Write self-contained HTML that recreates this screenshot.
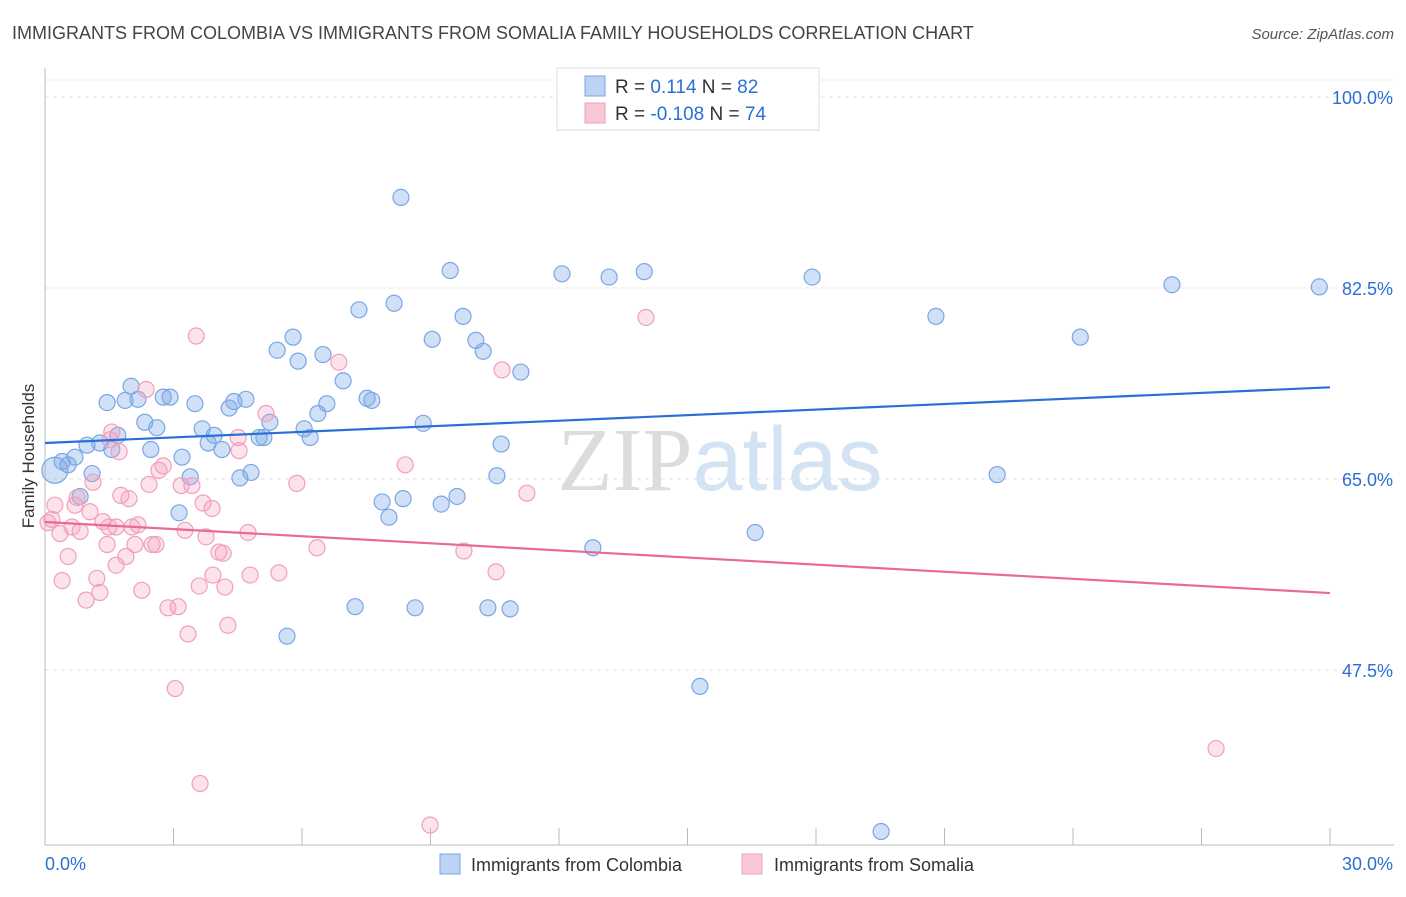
<!DOCTYPE html>
<html><head><meta charset="utf-8"><style>
body{margin:0;background:#fff;font-family:"Liberation Sans",sans-serif;}
svg text{font-family:"Liberation Sans",sans-serif;}
</style></head><body>
<svg id="chart" width="1406" height="892" xmlns="http://www.w3.org/2000/svg">
<text x="12" y="39" font-size="18" fill="#444">IMMIGRANTS FROM COLOMBIA VS IMMIGRANTS FROM SOMALIA FAMILY HOUSEHOLDS CORRELATION CHART</text>
<text x="1394" y="39" font-size="15" fill="#555" text-anchor="end" font-style="italic">Source: ZipAtlas.com</text>
<g id="grid"></g>
<text x="720" y="490" font-size="90" text-anchor="middle" fill="#e4e4e4"><tspan font-family="Liberation Serif" fill="#dcdcdc">ZIP</tspan><tspan fill="#d4e3f4">atlas</tspan></text>
<g id="axes"></g>
<g id="pts"></g>
<g id="trends"></g>
<text transform="translate(34,456) rotate(-90)" font-size="17" fill="#333" text-anchor="middle">Family Households</text>
<g>
<rect x="557" y="68" width="262" height="62" fill="#fff" stroke="#ddd"/>
<rect x="585" y="76" width="20" height="20" fill="#bcd4f4" stroke="#7aa6e6"/>
<rect x="585" y="103" width="20" height="20" fill="#f9c8d6" stroke="#eea0b8"/>
<text x="615" y="93" font-size="19" fill="#333">R = <tspan fill="#2a6fd6">  0.114</tspan><tspan fill="#333">   N = </tspan><tspan fill="#2a6fd6">82</tspan></text>
<text x="615" y="120" font-size="19" fill="#333">R = <tspan fill="#2a6fd6">-0.108</tspan><tspan fill="#333">   N = </tspan><tspan fill="#2a6fd6">74</tspan></text>
</g>
<g>
<rect x="440" y="854" width="20" height="20" fill="#bcd4f4" stroke="#7aa6e6"/>
<text x="471" y="871" font-size="18" fill="#333">Immigrants from Colombia</text>
<rect x="742" y="854" width="20" height="20" fill="#f9c8d6" stroke="#eea0b8"/>
<text x="774" y="871" font-size="18" fill="#333">Immigrants from Somalia</text>
</g>
</svg>
<script>
const yTicks=[100,82.5,65,47.5];
const yTickLabels=["100.0%","82.5%","65.0%","47.5%"];
const xTickLabels=["0.0%","30.0%"];
const blueX=[.23,.40,.54,.70,.82,1.10,.98,1.28,1.45,1.56,1.70,1.87,2.01,2.17,2.33,2.47,2.61,2.76,2.92,3.20,3.13,3.39,3.50,3.67,3.81,3.95,4.13,4.30,4.41,4.55,4.69,4.81,5.00,5.11,5.25,5.42,5.79,5.91,6.05,6.19,6.37,6.49,6.58,6.96,7.24,7.33,7.52,7.63,7.87,8.03,8.15,8.36,8.31,8.64,8.83,9.04,9.25,9.46,9.62,9.76,10.06,10.23,10.34,10.55,10.65,10.86,11.11,12.07,12.79,13.17,13.99,15.29,16.58,17.91,19.52,20.80,22.23,24.17,26.31,29.75,5.65];
const blueY=[65.8,66.6,66.3,67.0,63.4,65.5,68.1,68.3,72.0,67.7,69.0,72.2,73.5,72.3,70.2,67.7,69.7,72.5,72.5,67.0,61.9,65.2,71.9,69.6,68.3,69.0,67.7,71.5,72.1,65.1,72.3,65.6,68.8,68.8,70.2,76.8,78.0,75.8,69.6,68.8,71.0,76.4,71.9,74.0,53.3,80.5,72.4,72.2,62.9,61.5,81.1,63.2,90.8,53.2,70.1,77.8,62.7,84.1,63.4,79.9,77.7,76.7,53.2,65.3,68.2,53.1,74.8,83.8,58.7,83.5,84.0,46.0,60.1,83.5,32.7,79.9,65.4,78.0,82.8,82.6,50.6];
const pinkX=[.07,.16,.23,.40,.54,.70,.82,.75,.96,1.05,1.12,1.21,1.28,1.35,1.49,1.56,1.66,1.73,1.77,1.89,1.96,2.03,2.10,2.17,2.26,2.36,2.43,2.50,2.59,2.66,2.76,2.87,3.04,3.11,3.18,3.27,3.34,3.43,3.53,3.60,3.62,3.69,3.76,3.90,3.92,4.06,4.16,4.20,4.27,4.51,4.53,4.74,5.16,5.46,5.88,6.35,6.86,8.41,8.99,9.78,10.53,10.67,11.25,14.03,27.34,.35,.63,1.45,1.66,4.79,1.52];
const pinkY=[61.0,61.3,62.6,55.7,57.9,62.6,60.2,63.3,53.9,62.0,64.7,55.9,54.6,61.1,60.6,69.3,60.6,67.5,63.5,57.9,63.2,60.6,59.0,60.8,54.8,73.2,64.5,59.0,59.0,65.8,66.2,53.2,45.8,53.3,64.4,60.3,50.8,64.4,78.1,55.2,37.1,62.8,59.7,62.3,56.2,58.3,58.2,55.1,51.6,68.8,67.6,60.1,71.0,56.4,64.6,58.7,75.7,66.3,33.3,58.4,56.5,75.0,63.7,79.8,40.3,60.0,60.6,59.0,57.1,56.2,68.6];
const blueTrend=[68.3,73.4];
const pinkTrend=[61.06,54.55];
const X=v=>45+v*(1285/30);
const Y=v=>97+(100-v)*(191/17.5);
const NS="http://www.w3.org/2000/svg";
function mk(p,t,a){const e=document.createElementNS(NS,t);for(const k in a)e.setAttribute(k,a[k]);p.appendChild(e);return e;}
const grid=document.getElementById('grid'),axes=document.getElementById('axes');
mk(grid,'line',{x1:45,x2:1394,y1:80,y2:80,stroke:'#e6e6e6','stroke-dasharray':'4,4'});
yTicks.forEach((t,i)=>{
 const l=mk(grid,'line',{x1:45,x2:1394,y1:Y(t),y2:Y(t),stroke:'#e2e2e2','stroke-dasharray':'4,4'});
 
 
 const tx=mk(axes,'text',{x:1393,y:Y(t)+7,'font-size':18,fill:'#2a6fd6','text-anchor':'end'});
 tx.textContent=yTickLabels[i];
 
 
});
mk(axes,'line',{x1:45,x2:45,y1:68,y2:845,stroke:'#bbb'});
mk(axes,'line',{x1:45,x2:1394,y1:845,y2:845,stroke:'#bbb'});
for(let i=0;i<=10;i++){mk(axes,'line',{x1:X(i*3),x2:X(i*3),y1:828,y2:845,stroke:'#bbb'});}
const xl0=mk(axes,'text',{x:45,y:870,'font-size':18,fill:'#2a6fd6'});xl0.textContent=xTickLabels[0];


const xl1=mk(axes,'text',{x:1393,y:870,'font-size':18,fill:'#2a6fd6','text-anchor':'end'});xl1.textContent=xTickLabels[1];


const pts=document.getElementById('pts');
blueX.forEach((x,i)=>{const c=mk(pts,'circle',{cx:X(x),cy:Y(blueY[i]),r:i===0?13:8,fill:'rgba(120,165,230,0.35)',stroke:'#7aa6e6','stroke-width':1.2});
 
 });
pinkX.forEach((x,i)=>{const c=mk(pts,'circle',{cx:X(x),cy:Y(pinkY[i]),r:8,fill:'rgba(245,160,190,0.3)',stroke:'#f0a0ba','stroke-width':1.2});
 
 });
const tr=document.getElementById('trends');
const bl=mk(tr,'line',{x1:X(0),x2:X(30),y1:Y(blueTrend[0]),y2:Y(blueTrend[1]),stroke:'#2a6fd6','stroke-width':2.2});


const pl=mk(tr,'line',{x1:X(0),x2:X(30),y1:Y(pinkTrend[0]),y2:Y(pinkTrend[1]),stroke:'#e8699a','stroke-width':2.2});


</script>
</body></html>
